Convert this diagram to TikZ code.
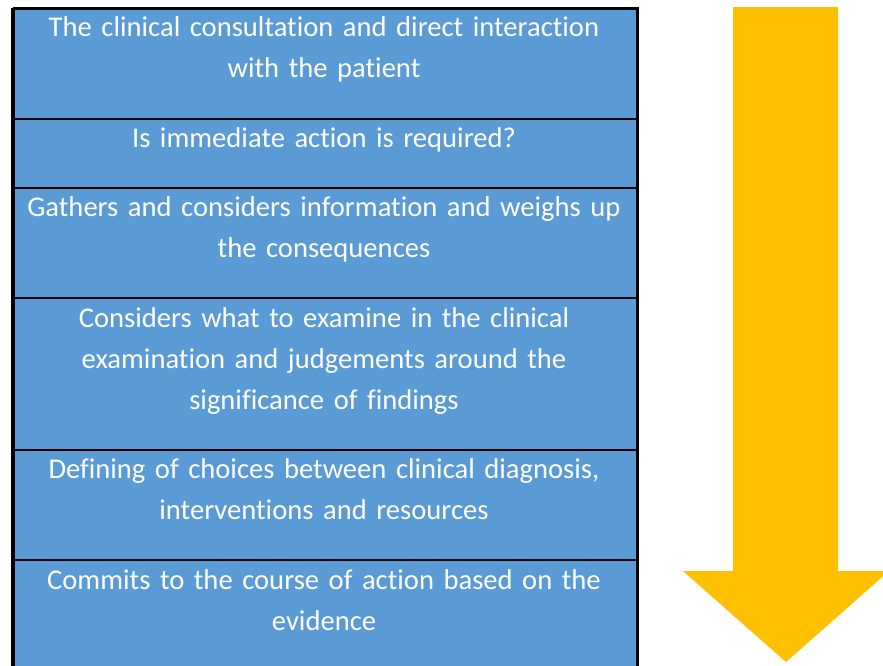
\documentclass[tikz,border=0pt]{standalone}
\usepackage{fontspec}
\setmainfont{Carlito}[Ligatures={NoCommon}]
\definecolor{cellblue}{HTML}{5B9BD5}
\definecolor{arrowgold}{HTML}{FFC000}
\begin{document}
\begin{tikzpicture}[x=1pt,y=-1pt,
  rowtext/.style={text=white, font=\fontsize{28.6}{41}\selectfont, align=center, anchor=base, inner sep=0pt, text width=615pt},
  cell/.style={fill=cellblue, draw=black, line width=2pt, anchor=north west, minimum width=623pt, inner sep=0pt},
  frame/.style={draw=black, line width=3pt}]
\useasboundingbox (0,0) rectangle (883,665);
\begin{scope}
\clip (0,0) rectangle (883,665);
\node[cell, minimum height=110pt] (c1) at (12.5,8) {};
\node[cell, minimum height=69pt]  (c2) at (12.5,118) {};
\node[cell, minimum height=110pt] (c3) at (12.5,187) {};
\node[cell, minimum height=152pt] (c4) at (12.5,297) {};
\node[cell, minimum height=110pt] (c5) at (12.5,449) {};
\node[cell, minimum height=150pt] (c6) at (12.5,559) {};
\draw[frame] (c1.north west) -- (c1.north east) -- (c6.south east);
\draw[frame] (c1.north west) -- (c6.south west);
\node[rowtext] (t1) at (324,36.7) {The clinical consultation and direct interaction\\with the patient};
\node[rowtext] (t2) at (324,147) {Is immediate action is required?};
\node[rowtext] (t3) at (324,216) {Gathers and considers information and weighs up\\the consequences};
\node[rowtext] (t4) at (324,327) {Considers what to examine in the clinical\\examination and judgements around the\\significance of findings};
\node[rowtext] (t5) at (324,478) {Defining of choices between clinical diagnosis,\\interventions and resources};
\node[rowtext] (t6) at (324,589) {Commits to the course of action based on the\\evidence};
\fill[arrowgold] (733,7) -- (838,7) -- (838,571) -- (889,571) -- (786,662) -- (683,571) -- (733,571) -- cycle;
\end{scope}
\end{tikzpicture}
\end{document}
